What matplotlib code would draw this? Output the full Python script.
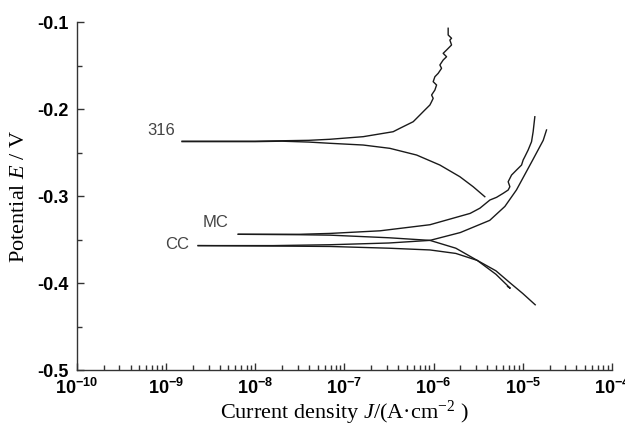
import numpy as np
import matplotlib
matplotlib.use("Agg")
import matplotlib.pyplot as plt
from matplotlib.ticker import FixedLocator, LogLocator, NullFormatter, MultipleLocator

plt.rcParams['mathtext.fontset'] = 'custom'
plt.rcParams['mathtext.rm'] = 'Liberation Sans'
plt.rcParams['mathtext.it'] = 'Liberation Serif:italic'

# ---- data (log10 J, E) ----
s316_anodic_logJ = [-8.82, -8.0, -7.7, -7.4, -7.163, -6.789, -6.453, -6.378, -6.228, -6.190, -6.153,
                    -6.097, -6.041, -6.022, -6.004, -6.022, -5.985, -5.966, -6.004, -5.985, -5.948,
                    -5.910, -5.929, -5.892, -5.854, -5.892, -5.854, -5.798, -5.817, -5.798, -5.836,
                    -5.836]
s316_anodic_E = [-0.237, -0.237, -0.2365, -0.236, -0.2348, -0.2318, -0.2261, -0.2222, -0.2146, -0.2107,
                 -0.2069, -0.2011, -0.1954, -0.1916, -0.1877, -0.1839, -0.1782, -0.1724, -0.1686,
                 -0.1629, -0.1590, -0.1532, -0.1494, -0.1437, -0.1399, -0.1360, -0.1322, -0.1264,
                 -0.1207, -0.1187, -0.1149, -0.1072]
s316_cathodic_logJ = [-8.82, -8.0, -7.7, -7.4, -7.163, -6.789, -6.490, -6.190, -5.929, -5.705, -5.556, -5.425]
s316_cathodic_E = [-0.2375, -0.2375, -0.237, -0.238, -0.2394, -0.2414, -0.2452, -0.2529, -0.2644,
                   -0.2778, -0.2893, -0.3008]

mc_anodic_logJ = [-8.19, -7.5, -7.16, -6.6, -6.04, -5.59, -5.48, -5.368, -5.293, -5.219, -5.163,
                  -5.144, -5.163, -5.125, -5.069, -5.013, -4.995, -4.976, -4.939, -4.901, -4.883, -4.864]
mc_anodic_E = [-0.344, -0.344, -0.343, -0.340, -0.333, -0.320, -0.314, -0.3046, -0.3015, -0.2969,
               -0.2931, -0.2893, -0.2836, -0.2759, -0.2701, -0.2644, -0.2586, -0.2548, -0.2471,
               -0.2376, -0.2261, -0.2089]
mc_cathodic_logJ = [-8.19, -7.5, -7.16, -6.5, -6.04, -5.75, -5.51, -5.30, -5.14, -5.17]
mc_cathodic_E = [-0.344, -0.3445, -0.345, -0.348, -0.351, -0.360, -0.374, -0.390, -0.406, -0.404]

cc_anodic_logJ = [-8.64, -7.8, -7.16, -6.5, -6.04, -5.70, -5.37, -5.20, -5.07, -4.89, -4.77, -4.733]
cc_anodic_E = [-0.357, -0.357, -0.356, -0.354, -0.351, -0.342, -0.328, -0.312, -0.293, -0.259, -0.236, -0.2241]
cc_cathodic_logJ = [-8.64, -7.8, -7.16, -6.5, -6.04, -5.75, -5.51, -5.30, -5.14, -5.00, -4.86]
cc_cathodic_E = [-0.357, -0.3575, -0.358, -0.360, -0.362, -0.366, -0.374, -0.386, -0.400, -0.412, -0.425]

series_labels = ["316", "MC", "CC"]
x_tick_exps = [-10, -9, -8, -7, -6, -5, -4]
y_ticks = [-0.5, -0.4, -0.3, -0.2, -0.1]

fig = plt.figure(figsize=(6.25, 4.29), dpi=100)
ax = fig.add_axes([0.123, 0.1375, 0.856, 0.8112])

branches = [(s316_anodic_logJ, s316_anodic_E), (s316_cathodic_logJ, s316_cathodic_E),
            (mc_anodic_logJ, mc_anodic_E), (mc_cathodic_logJ, mc_cathodic_E),
            (cc_anodic_logJ, cc_anodic_E), (cc_cathodic_logJ, cc_cathodic_E)]
for lj, e in branches:
    ax.plot(10.0 ** np.array(lj), e, color='#1a1a1a', lw=1.0)

ax.set_xscale('log')
ax.set_xlim(1e-10, 1e-4)
ax.set_ylim(-0.5, -0.1)

ax.spines['top'].set_visible(False)
ax.spines['right'].set_visible(False)
for sp in ('left', 'bottom'):
    ax.spines[sp].set_linewidth(1.0)
    ax.spines[sp].set_color('#333333')

ax.xaxis.set_major_locator(FixedLocator([10.0 ** k for k in x_tick_exps]))
ax.xaxis.set_minor_locator(LogLocator(base=10, subs=np.arange(2, 10), numticks=20))
ax.xaxis.set_minor_formatter(NullFormatter())
ax.set_xticklabels([r'$\mathregular{10^{%d}}$' % k for k in x_tick_exps])
ax.yaxis.set_major_locator(FixedLocator(y_ticks))
ax.yaxis.set_minor_locator(MultipleLocator(0.05))
ax.set_yticklabels(['%.1f' % v for v in y_ticks])

ax.tick_params(which='major', direction='in', length=5, width=1, color='#333333',
               labelsize=13, pad=6)
ax.tick_params(which='minor', direction='in', length=3.5, width=1, color='#333333')
for lbl in ax.get_xticklabels() + ax.get_yticklabels():
    lbl.set_fontfamily('Liberation Sans')
    lbl.set_fontweight('bold')

ax.set_xlabel(r'Current density $\mathit{J}$/(A·cm$\mathregular{^{-2}}$ )',
              fontfamily='Liberation Serif', fontsize=16, labelpad=0)
ax.set_ylabel(r'Potential $\mathit{E}$ / V', fontfamily='Liberation Serif', fontsize=16, labelpad=6)

label_pos = [(10 ** -9.05, -0.225), (10 ** -8.45, -0.330), (10 ** -8.88, -0.356)]
for txt, (xx, yy) in zip(series_labels, label_pos):
    ax.text(xx, yy, txt, fontfamily='Liberation Sans', fontsize=12, color='#444444',
            ha='center', va='center')

fig.savefig('out.png', dpi=100)
